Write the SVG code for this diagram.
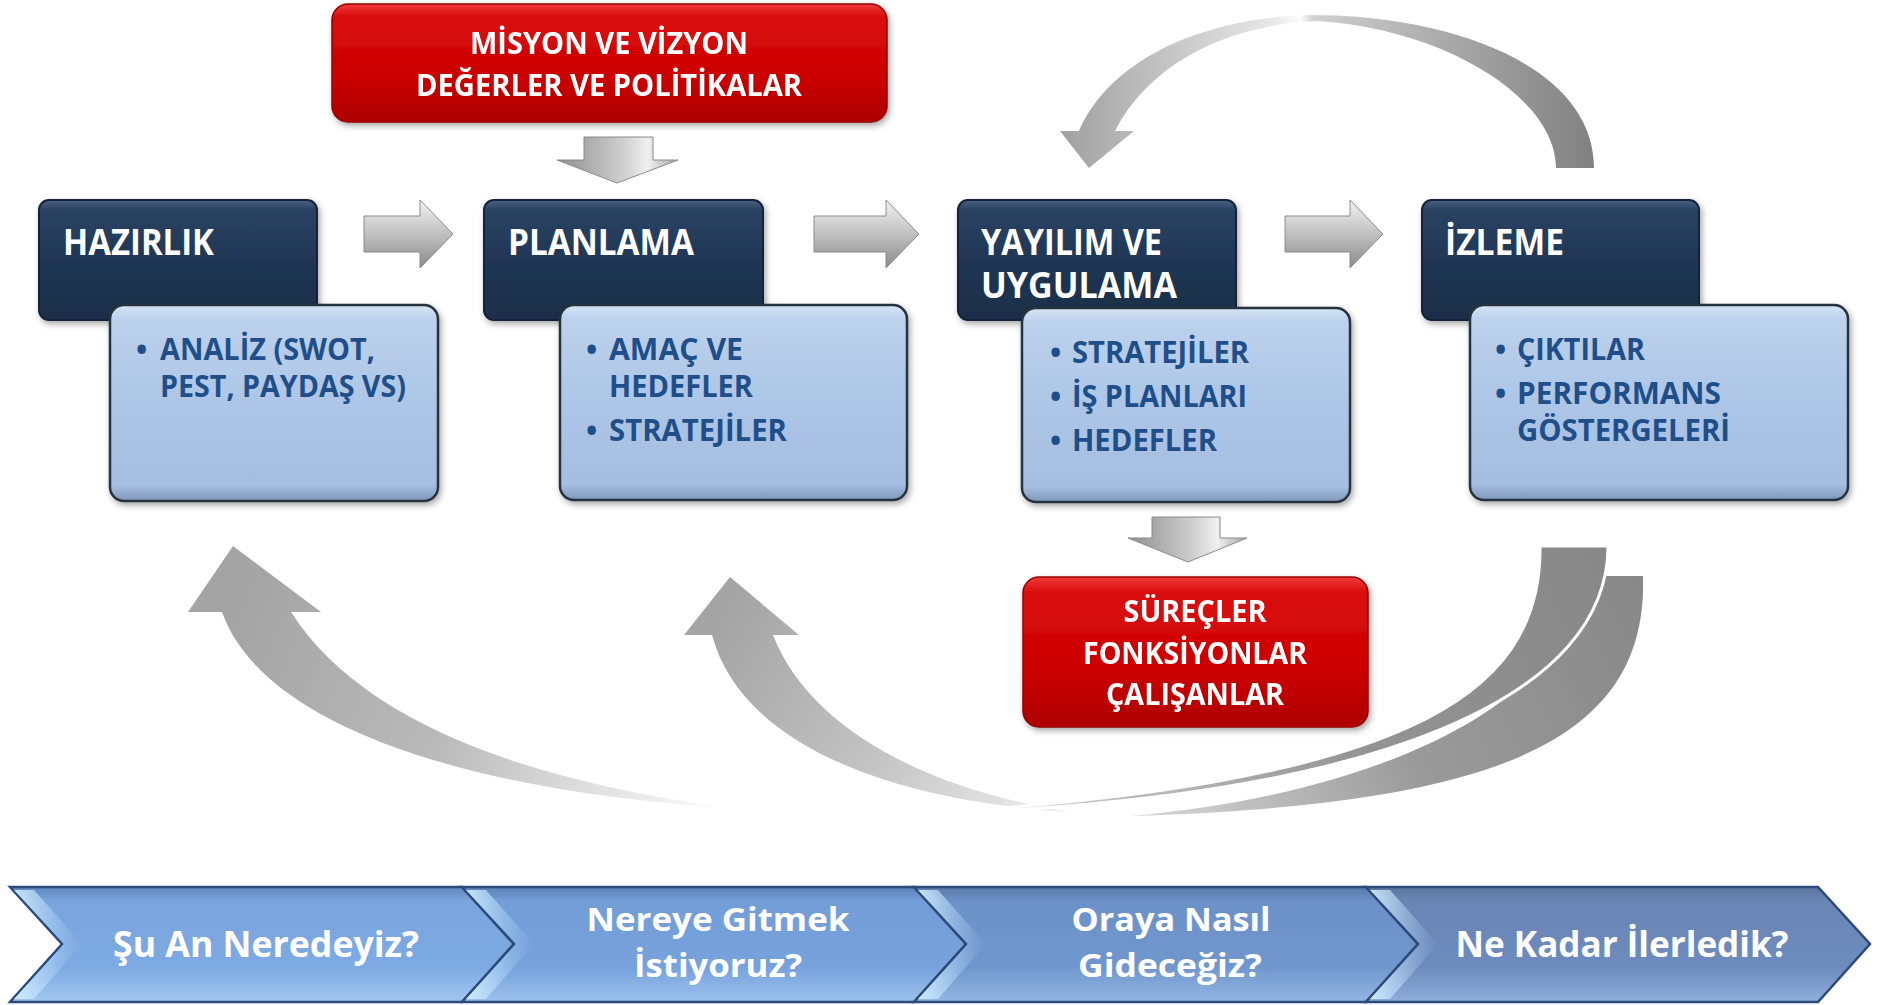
<svg xmlns="http://www.w3.org/2000/svg" width="1883" height="1005" viewBox="0 0 1883 1005">
<defs>
<style>
.t{font-family:"Open Sans","Noto Sans","DejaVu Sans",sans-serif;font-weight:700}
.w{fill:#ffffff}
.b{fill:#1f4e89}
.title{font-size:35px}
.bul{font-size:30px}
.red{font-size:30px}
.chev{font-size:35px}
.chev2{font-size:32px}
.dark{fill:url(#gDark);stroke:#14233a;stroke-width:2}
.light{fill:url(#gLight);stroke:#27313f;stroke-width:2.5}
.redbox{fill:url(#gRed);stroke:#9a0000;stroke-width:1.5}
.arR{fill:url(#gArrR);stroke:#8a8a8a;stroke-width:1}
.arD{fill:url(#gArrD);stroke:#8a8a8a;stroke-width:1}
.chv{stroke:#2c4a7a;stroke-width:2.5;stroke-linejoin:miter}
</style>
<filter id="sh" x="-10%" y="-10%" width="125%" height="135%">
<feDropShadow dx="2" dy="3" stdDeviation="3" flood-color="#000" flood-opacity="0.35"/>
</filter>
<linearGradient id="gDark" x1="0" y1="0" x2="0" y2="1">
<stop offset="0" stop-color="#4a6383"/><stop offset="0.08" stop-color="#2b4363"/><stop offset="0.5" stop-color="#203654"/><stop offset="1" stop-color="#1a2e48"/>
</linearGradient>
<linearGradient id="gLight" x1="0" y1="0" x2="0" y2="1">
<stop offset="0" stop-color="#d8e6f5"/><stop offset="0.07" stop-color="#bcd1ec"/><stop offset="0.5" stop-color="#adc6e7"/><stop offset="0.92" stop-color="#a5bee1"/><stop offset="1" stop-color="#7f97b8"/>
</linearGradient>
<linearGradient id="gRed" x1="0" y1="0" x2="0" y2="1">
<stop offset="0" stop-color="#ef3a3a"/><stop offset="0.1" stop-color="#da0e0e"/><stop offset="0.6" stop-color="#cc0000"/><stop offset="1" stop-color="#ad0000"/>
</linearGradient>
<linearGradient id="gArrR" x1="0" y1="0" x2="0" y2="1">
<stop offset="0" stop-color="#f2f2f2"/><stop offset="0.45" stop-color="#c6c6c6"/><stop offset="1" stop-color="#8a8a8a"/>
</linearGradient>
<linearGradient id="gArrD" x1="0" y1="0" x2="1" y2="0">
<stop offset="0" stop-color="#8e8e8e"/><stop offset="0.55" stop-color="#cfcfcf"/><stop offset="0.75" stop-color="#f0f0f0"/><stop offset="1" stop-color="#a2a2a2"/>
</linearGradient>
<linearGradient id="gCh1" x1="0" y1="0" x2="0" y2="1">
<stop offset="0" stop-color="#5f86bd"/><stop offset="0.12" stop-color="#79a4dd"/><stop offset="0.7" stop-color="#7eaae3"/><stop offset="1" stop-color="#a2c7f1"/>
</linearGradient>
<linearGradient id="gCh2" x1="0" y1="0" x2="0" y2="1">
<stop offset="0" stop-color="#5c82b8"/><stop offset="0.12" stop-color="#729dd7"/><stop offset="0.7" stop-color="#77a2dc"/><stop offset="1" stop-color="#9cc1ec"/>
</linearGradient>
<linearGradient id="gCh3" x1="0" y1="0" x2="0" y2="1">
<stop offset="0" stop-color="#5a7bab"/><stop offset="0.12" stop-color="#6c91c8"/><stop offset="0.7" stop-color="#7097cd"/><stop offset="1" stop-color="#93b7e4"/>
</linearGradient>
<linearGradient id="gCh4" x1="0" y1="0" x2="0" y2="1">
<stop offset="0" stop-color="#5b769f"/><stop offset="0.12" stop-color="#6985b4"/><stop offset="0.7" stop-color="#6d8bbd"/><stop offset="1" stop-color="#8eaedb"/>
</linearGradient>
<linearGradient id="gHi" x1="0" y1="0" x2="1" y2="0">
<stop offset="0" stop-color="#d6f0ff" stop-opacity="0.9"/><stop offset="1" stop-color="#b0d8fa" stop-opacity="0"/>
</linearGradient>
<linearGradient id="gTop" gradientUnits="userSpaceOnUse" x1="1060" y1="0" x2="1600" y2="0">
<stop offset="0" stop-color="#a0a0a0"/><stop offset="0.4" stop-color="#e9e9e9"/><stop offset="0.445" stop-color="#fdfdfd"/><stop offset="0.47" stop-color="#d0d0d0"/><stop offset="0.75" stop-color="#a4a4a4"/><stop offset="1" stop-color="#7f7f7f"/>
</linearGradient>
<linearGradient id="gA" gradientUnits="userSpaceOnUse" x1="240" y1="600" x2="730" y2="808">
<stop offset="0" stop-color="#a4a4a4"/><stop offset="0.45" stop-color="#bababa"/><stop offset="1" stop-color="#ffffff"/>
</linearGradient>
<linearGradient id="gB" gradientUnits="userSpaceOnUse" x1="730" y1="600" x2="1070" y2="812">
<stop offset="0" stop-color="#a4a4a4"/><stop offset="0.5" stop-color="#c2c2c2"/><stop offset="1" stop-color="#f0f0f0"/>
</linearGradient>
<linearGradient id="gC" gradientUnits="userSpaceOnUse" x1="1600" y1="560" x2="905" y2="815">
<stop offset="0" stop-color="#888888"/><stop offset="0.4" stop-color="#949494"/><stop offset="0.8" stop-color="#c8c8c8"/><stop offset="1" stop-color="#e8e8e8"/>
</linearGradient>
<linearGradient id="gD" gradientUnits="userSpaceOnUse" x1="1640" y1="580" x2="1130" y2="815">
<stop offset="0" stop-color="#888888"/><stop offset="0.5" stop-color="#9a9a9a"/><stop offset="1" stop-color="#d8d8d8"/>
</linearGradient>
</defs>

<rect width="1883" height="1005" fill="#ffffff"/>

<g id="connectors">
<path id="arc-top" fill="url(#gTop)" d="M1079,131 C1110,60 1200,18 1310,15 C1460,15 1594,70 1594,168 L1556,168 C1556,100 1450,30 1318,21 C1230,24 1150,62 1115,131 L1134,131 L1089,168 L1060,131 Z"/>
<path id="arc-a" fill="url(#gA)" d="M233,546 L321,612 L291,612 C360,720 520,780 730,808 C450,790 260,720 222,612 L188,612 Z"/>
<path id="arc-b" fill="url(#gB)" d="M730,577 L799,635 L773,635 C810,730 930,790 1070,812 C880,800 740,740 712,635 L684,635 Z"/>
<path id="arc-d" fill="url(#gD)" d="M1580,576 H1643 C1648,740 1500,805 1130,816 C1420,790 1582,680 1580,576 Z"/>
<path id="arc-c" fill="url(#gC)" stroke="#ffffff" stroke-width="3" d="M1540,546 H1608 C1608,690 1400,800 905,815 C1400,785 1542,700 1540,546 Z"/>
<path id="arr-r1" class="arR" d="M364,216 H420 V200 L453,234 L420,268 V252 H364 Z"/>
<path id="arr-r2" class="arR" d="M814,216 H886 V200 L919,234 L886,268 V252 H814 Z"/>
<path id="arr-r3" class="arR" d="M1285,216 H1350 V200 L1383,234 L1350,268 V252 H1285 Z"/>
<path id="arr-d1" class="arD" d="M584,137 H653 V160 H678 L617,183 L557,160 H584 Z"/>
<path id="arr-d2" class="arD" d="M1152,517 H1220 V538 H1247 L1188,562 L1128,538 H1152 Z"/>
</g>

<g id="node-misyon" filter="url(#sh)">
<rect class="redbox" x="332" y="4" width="555" height="118" rx="16"/>
<text class="t w red" x="609" y="54" text-anchor="middle" textLength="278" lengthAdjust="spacingAndGlyphs">MİSYON VE VİZYON</text>
<text class="t w red" x="609" y="96" text-anchor="middle" textLength="386" lengthAdjust="spacingAndGlyphs">DEĞERLER VE POLİTİKALAR</text>
</g>

<g id="node-hazirlik">
<rect class="dark" x="39" y="200" width="278" height="120" rx="10" filter="url(#sh)"/>
<text class="t w title" x="63" y="255" textLength="151" lengthAdjust="spacingAndGlyphs">HAZIRLIK</text>
<rect class="light" x="110" y="305" width="328" height="196" rx="14" filter="url(#sh)"/>
<text class="t b bul" x="136" y="360">•</text>
<text class="t b bul" x="160" y="360" textLength="215" lengthAdjust="spacingAndGlyphs">ANALİZ (SWOT,</text>
<text class="t b bul" x="160" y="397" textLength="246" lengthAdjust="spacingAndGlyphs">PEST, PAYDAŞ VS)</text>
</g>

<g id="node-planlama">
<rect class="dark" x="484" y="200" width="279" height="120" rx="10" filter="url(#sh)"/>
<text class="t w title" x="508" y="255" textLength="186" lengthAdjust="spacingAndGlyphs">PLANLAMA</text>
<rect class="light" x="560" y="305" width="347" height="195" rx="14" filter="url(#sh)"/>
<text class="t b bul" x="586" y="360">•</text>
<text class="t b bul" x="609" y="360" textLength="134" lengthAdjust="spacingAndGlyphs">AMAÇ VE</text>
<text class="t b bul" x="609" y="397" textLength="144" lengthAdjust="spacingAndGlyphs">HEDEFLER</text>
<text class="t b bul" x="586" y="441">•</text>
<text class="t b bul" x="609" y="441" textLength="178" lengthAdjust="spacingAndGlyphs">STRATEJİLER</text>
</g>

<g id="node-yayilim">
<rect class="dark" x="958" y="200" width="278" height="120" rx="10" filter="url(#sh)"/>
<text class="t w title" x="981" y="255" textLength="181" lengthAdjust="spacingAndGlyphs">YAYILIM VE</text>
<text class="t w title" x="981" y="298" textLength="196" lengthAdjust="spacingAndGlyphs">UYGULAMA</text>
<rect class="light" x="1022" y="308" width="328" height="194" rx="14" filter="url(#sh)"/>
<text class="t b bul" x="1050" y="363">•</text>
<text class="t b bul" x="1072" y="363" textLength="177" lengthAdjust="spacingAndGlyphs">STRATEJİLER</text>
<text class="t b bul" x="1050" y="407">•</text>
<text class="t b bul" x="1072" y="407" textLength="175" lengthAdjust="spacingAndGlyphs">İŞ PLANLARI</text>
<text class="t b bul" x="1050" y="451">•</text>
<text class="t b bul" x="1072" y="451" textLength="145" lengthAdjust="spacingAndGlyphs">HEDEFLER</text>
</g>

<g id="node-izleme">
<rect class="dark" x="1422" y="200" width="277" height="120" rx="10" filter="url(#sh)"/>
<text class="t w title" x="1445" y="255" textLength="119" lengthAdjust="spacingAndGlyphs">İZLEME</text>
<rect class="light" x="1470" y="305" width="378" height="195" rx="14" filter="url(#sh)"/>
<text class="t b bul" x="1495" y="360">•</text>
<text class="t b bul" x="1517" y="360" textLength="128" lengthAdjust="spacingAndGlyphs">ÇIKTILAR</text>
<text class="t b bul" x="1495" y="404">•</text>
<text class="t b bul" x="1517" y="404" textLength="204" lengthAdjust="spacingAndGlyphs">PERFORMANS</text>
<text class="t b bul" x="1517" y="441" textLength="213" lengthAdjust="spacingAndGlyphs">GÖSTERGELERİ</text>
</g>

<g id="node-surecler" filter="url(#sh)">
<rect class="redbox" x="1023" y="577" width="345" height="150" rx="16"/>
<text class="t w red" x="1195" y="622" text-anchor="middle" textLength="143" lengthAdjust="spacingAndGlyphs">SÜREÇLER</text>
<text class="t w red" x="1195" y="664" text-anchor="middle" textLength="224" lengthAdjust="spacingAndGlyphs">FONKSİYONLAR</text>
<text class="t w red" x="1195" y="705" text-anchor="middle" textLength="178" lengthAdjust="spacingAndGlyphs">ÇALIŞANLAR</text>
</g>

<g id="node-chev1">
<polygon class="chv" fill="url(#gCh1)" points="10,887 462,887 514,944 462,1002 10,1002 62,944"/>
<polygon fill="url(#gHi)" points="14,890 34,890 82,944 34,999 14,999 64,944"/>
<text class="t w chev" x="266" y="957" text-anchor="middle" textLength="306" lengthAdjust="spacingAndGlyphs">Şu An Neredeyiz?</text>
</g>
<g id="node-chev2">
<polygon class="chv" fill="url(#gCh2)" points="462,887 914,887 966,944 914,1002 462,1002 514,944"/>
<polygon fill="url(#gHi)" points="466,890 486,890 534,944 486,999 466,999 516,944"/>
<text class="t w chev2" x="718" y="931" text-anchor="middle" textLength="263" lengthAdjust="spacingAndGlyphs">Nereye Gitmek</text>
<text class="t w chev2" x="718" y="977" text-anchor="middle" textLength="168" lengthAdjust="spacingAndGlyphs">İstiyoruz?</text>
</g>
<g id="node-chev3">
<polygon class="chv" fill="url(#gCh3)" points="914,887 1366,887 1418,944 1366,1002 914,1002 966,944"/>
<polygon fill="url(#gHi)" points="918,890 938,890 986,944 938,999 918,999 968,944"/>
<text class="t w chev2" x="1171" y="931" text-anchor="middle" textLength="199" lengthAdjust="spacingAndGlyphs">Oraya Nasıl</text>
<text class="t w chev2" x="1170" y="977" text-anchor="middle" textLength="184" lengthAdjust="spacingAndGlyphs">Gideceğiz?</text>
</g>
<g id="node-chev4">
<polygon class="chv" fill="url(#gCh4)" points="1366,887 1818,887 1870,944 1818,1002 1366,1002 1418,944"/>
<polygon fill="url(#gHi)" points="1370,890 1390,890 1438,944 1390,999 1370,999 1420,944"/>
<text class="t w chev" x="1622" y="957" text-anchor="middle" textLength="333" lengthAdjust="spacingAndGlyphs">Ne Kadar İlerledik?</text>
</g>
</svg>
